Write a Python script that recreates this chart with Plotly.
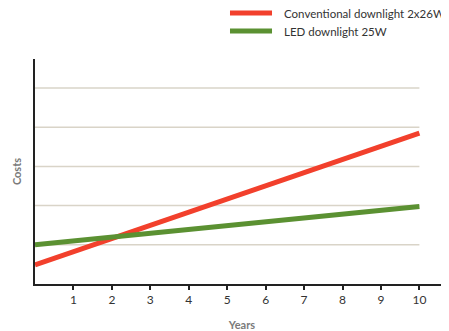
import plotly.graph_objects as go

years = [0, 10]
conventional = [0.49, 3.85]
led = [1.0, 1.98]
series_names = ["Conventional downlight 2x26W", "LED downlight 25W"]
series_colors = ["#f2402c", "#5b9132"]
x_ticks = [1, 2, 3, 4, 5, 6, 7, 8, 9, 10]
grid_levels = [1, 2, 3, 4, 5]

fig = go.Figure()
for vals, name, col in zip([conventional, led], series_names, series_colors):
    fig.add_trace(go.Scatter(x=years, y=vals, mode="lines", name=name, showlegend=False,
                             line=dict(color=col, width=5)))

for g in grid_levels:
    fig.add_shape(type="line", xref="x", yref="y", x0=years[0], x1=years[-1], y0=g, y1=g,
                  line=dict(color="#d9d4c8", width=1.5), layer="below")

# manual legend (paper coordinates)
legend_y = [1.204, 1.124]
for name, col, ly in zip(series_names, series_colors, legend_y):
    fig.add_shape(type="line", xref="paper", yref="paper", x0=0.471, x1=0.5725, y0=ly, y1=ly,
                  line=dict(color=col, width=5))
    fig.add_annotation(xref="paper", yref="paper", x=0.5966, y=ly, text=name, showarrow=False,
                       xanchor="left", yanchor="middle",
                       font=dict(family="Lato", size=11.5, color="#333333"))

fig.update_layout(
    width=441, height=323,
    margin=dict(l=27, r=0, t=51, b=47),
    paper_bgcolor="white", plot_bgcolor="white",
    font=dict(family="Lato", size=11, color="#333333"),
    showlegend=False,
    xaxis=dict(range=[0, 10.77], tickvals=x_ticks, showgrid=False, zeroline=False,
               showline=True, linecolor="#222222", linewidth=2, automargin=False,
               ticks="outside", ticklen=4, tickwidth=1.5, tickcolor="#222222",
               tickfont=dict(size=12, color="#333333"),
               title=dict(text="<b>Years</b>", font=dict(size=11, color="#7a7a7a"), standoff=15)),
    yaxis=dict(range=[0, 5.74], showgrid=False, zeroline=False, showticklabels=False,
               showline=True, linecolor="#222222", linewidth=2, ticks="", automargin=False,
               title=dict(text="<b>Costs</b>", font=dict(size=11, color="#7a7a7a"), standoff=9)),
)

fig.write_html("out.html")
